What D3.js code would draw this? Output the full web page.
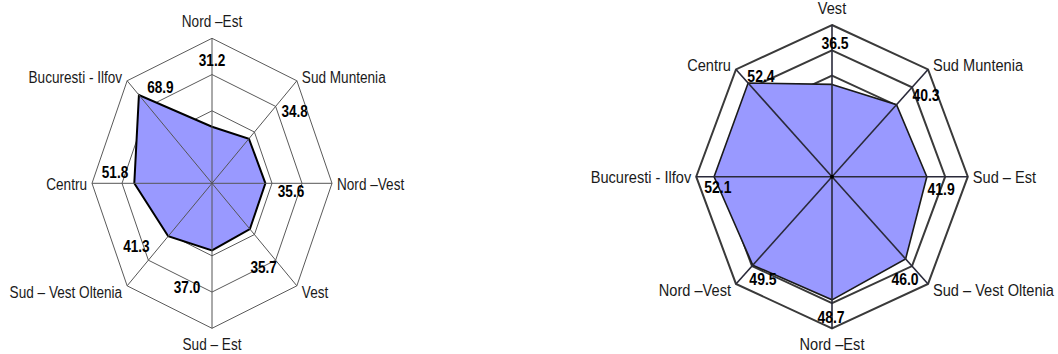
<!DOCTYPE html>
<html>
<head>
<meta charset="utf-8">
<script src="https://cdn.jsdelivr.net/npm/d3@7"></script>
<style>
  html, body { margin: 0; padding: 0; background: #fff; }
  svg { display: block; }
  text { font-family: Arial, "Liberation Sans", sans-serif; }
</style>
</head>
<body>
<div id="chart"></div>
<script>
// left radar: clockwise from the top
const leftCategories = ['Nord \u2013Est', 'Sud Muntenia', 'Nord \u2013Vest', 'Vest',
  'Sud \u2013 Est', 'Sud \u2013 Vest Oltenia', 'Centru', 'Bucuresti - Ilfov'];
const leftValues = [31.2, 34.8, 35.6, 35.7, 37.0, 41.3, 51.8, 68.9];
const leftRings = [20, 40, 60, 80];

// right radar: clockwise from the top
const rightCategories = ['Vest', 'Sud Muntenia', 'Sud \u2013 Est', 'Sud \u2013 Vest Oltenia',
  'Nord \u2013Est', 'Nord \u2013Vest', 'Bucuresti - Ilfov', 'Centru'];
const rightValues = [36.5, 40.3, 41.9, 46.0, 48.7, 49.5, 52.1, 52.4];
const rightRings = [10, 20, 30, 40, 50, 60];

const width = 1058, height = 354;
const svg = d3.select('#chart').append('svg')
  .attr('width', width)
  .attr('height', height);

// hand placed label nudges (the source chart had them dragged around)
const charts = [
  {
    categories: leftCategories, values: leftValues, rings: leftRings,
    cx: 212, cy: 183.3, rx: 120, ry: 145,
    labelRing: 60,
    valueNudge: [[0, -9], [19, 11], [-11, 14], [-12, 13], [-25, 1], [-12, -8], [-7, -5], [12, -13]],
    catSize: 13.6, valSize: 13.6, stretch: 1.15,
    gridColor: '#5a5a5a', gridWidth: 1,
    spokeColor: '#555', spokeWidth: 1,
    edgeColor: '#000', edgeWidth: 2,
    dot: false
  },
  {
    categories: rightCategories, values: rightValues, rings: rightRings,
    cx: 832, cy: 176.7, rx: 135.8, ry: 151.7,
    labelRing: 50,
    valueNudge: [[3, -1], [14, 14], [-4, 18], [-7, 19], [-1, 20], [11, 19], [-1, 16], [9, -5]],
    catSize: 14.6, valSize: 14, stretch: 1.15,
    gridColor: '#3a3a3a', gridWidth: 2,
    spokeColor: '#2a2a3a', spokeWidth: 1.6,
    edgeColor: '#1a1a1a', edgeWidth: 1.6,
    dot: true
  }
];

function drawRadar(c) {
  const n = c.categories.length;
  const g = svg.append('g');
  const r = d3.scaleLinear().domain([0, d3.max(c.rings)]).range([0, 1]);
  const angle = d3.scaleLinear().domain([0, n]).range([0, 2 * Math.PI]);
  const px = (i, v) => c.cx + c.rx * r(v) * Math.sin(angle(i));
  const py = (i, v) => c.cy - c.ry * r(v) * Math.cos(angle(i));
  const idx = d3.range(n);

  const ring = d3.line().curve(d3.curveLinearClosed);

  // grid rings first, the filled polygon covers the inner ones
  g.selectAll('path.ring')
    .data(c.rings)
    .join('path')
    .attr('class', 'ring')
    .attr('d', v => ring(idx.map(i => [px(i, v), py(i, v)])))
    .attr('fill', 'none')
    .attr('stroke', c.gridColor)
    .attr('stroke-width', c.gridWidth)
    .attr('stroke-linejoin', 'miter');

  g.append('path')
    .attr('d', ring(c.values.map((v, i) => [px(i, v), py(i, v)])))
    .attr('fill', '#9999ff')
    .attr('stroke', c.edgeColor)
    .attr('stroke-width', c.edgeWidth)
    .attr('stroke-linejoin', 'miter');

  const top = d3.max(c.rings);
  g.selectAll('line.spoke')
    .data(idx)
    .join('line')
    .attr('class', 'spoke')
    .attr('x1', c.cx).attr('y1', c.cy)
    .attr('x2', i => px(i, top)).attr('y2', i => py(i, top))
    .attr('stroke', c.spokeColor)
    .attr('stroke-width', c.spokeWidth);

  if (c.dot) {
    g.append('circle')
      .attr('cx', c.cx).attr('cy', c.cy).attr('r', 2)
      .attr('fill', '#000');
  }

  // category labels just outside the outer ring
  g.selectAll('text.cat')
    .data(c.categories)
    .join('text')
    .attr('class', 'cat')
    .attr('transform', (d, i) => {
      const s = Math.sin(angle(i)), k = Math.cos(angle(i));
      let x = px(i, top), y = py(i, top);
      if (Math.abs(s) < 0.01) {
        y += k > 0 ? -11 : 22;
      } else {
        x += s > 0 ? 5 : -5;
        if (Math.abs(k) < 0.01) y += 6.5;
        else y += k > 0 ? 2 : 12;
      }
      return `translate(${x},${y}) scale(1,${c.stretch})`;
    })
    .attr('text-anchor', (d, i) => {
      const s = Math.sin(angle(i));
      return Math.abs(s) < 0.01 ? 'middle' : (s > 0 ? 'start' : 'end');
    })
    .attr('font-size', c.catSize)
    .attr('fill', '#1a1a1a')
    .text(d => d);

  g.selectAll('text.val')
    .data(c.values)
    .join('text')
    .attr('class', 'val')
    .attr('transform', (v, i) => {
      const x = px(i, c.labelRing) + c.valueNudge[i][0];
      const y = py(i, c.labelRing) + c.valueNudge[i][1];
      return `translate(${x},${y}) scale(1,${c.stretch})`;
    })
    .attr('text-anchor', 'middle')
    .attr('font-size', c.valSize)
    .attr('font-weight', 'bold')
    .attr('fill', '#000')
    .text(v => v.toFixed(1));
}

charts.forEach(drawRadar);
</script>
</body>
</html>
